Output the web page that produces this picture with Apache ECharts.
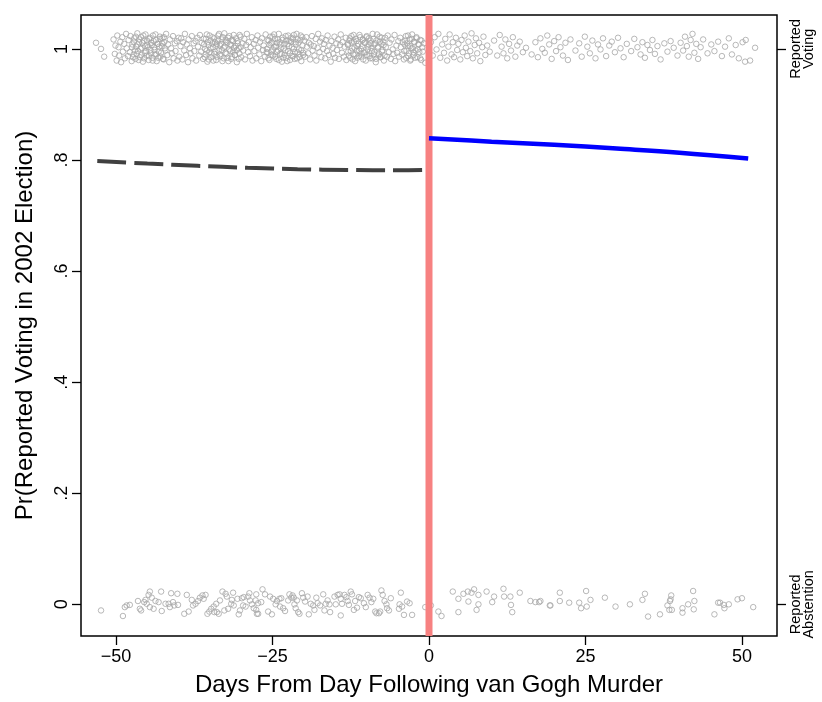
<!DOCTYPE html>
<html>
<head>
<meta charset="utf-8">
<script src="https://cdn.jsdelivr.net/npm/echarts@6/dist/echarts.min.js"></script>
<style>
  html, body { margin: 0; padding: 0; background: #fff; }
  #chart { width: 822px; height: 702px; }
</style>
</head>
<body>
<div id="chart"></div>
<script>
// tick labels
const xTicks = [-50, -25, 0, 25, 50];
const yTicks = [0, 0.2, 0.4, 0.6, 0.8, 1];
const yTickLabels = ['0', '.2', '.4', '.6', '.8', '1'];
const sideTicks = [0, 1];
const sideLabels = ['Reported\nAbstention', 'Reported\nVoting'];

// fitted lines
const preDays = [-53, -45, -37, -29, -21, -13, -5, -1];
const preFit = [0.798, 0.7935, 0.7895, 0.786, 0.7835, 0.782, 0.7815, 0.782];
const postDays = [0, 10, 20, 30, 40, 51];
const postFit = [0.839, 0.833, 0.8275, 0.8205, 0.813, 0.8025];

// jittered respondents, reported voting (y ~ 1)
const voteBefore = [
  [-53.2,1.011],[-52.4,1.0],[-51.9,0.986],
  [-50.4,1.017],[-50.2,0.991],[-50.1,1.006],[-49.9,0.979],[-49.8,1.024],[-49.6,1.003],[-49.5,0.988],[-49.3,1.013],[-49.2,0.976],[-49.0,1.021],
  [-48.9,0.995],[-48.7,1.009],[-48.6,0.983],[-48.4,1.027],[-48.3,1.001],[-48.1,0.987],[-48.0,1.016],[-47.8,0.994],[-47.7,1.023],[-47.5,0.978],
  [-47.4,1.008],[-47.2,0.990],[-47.1,1.019],[-46.9,0.982],[-46.8,1.004],[-46.6,1.028],[-46.5,0.996],[-46.3,1.012],[-46.2,0.985],[-46.0,1.021],
  [-45.9,1.002],[-45.7,0.977],[-45.6,1.015],[-45.4,0.993],[-45.3,1.026],[-45.1,0.988],[-45.0,1.007],[-44.8,0.980],[-44.7,1.018],[-44.5,0.998],
  [-44.4,1.011],[-44.2,0.984],[-44.1,1.024],[-43.9,1.003],[-43.8,0.990],[-43.6,1.016],[-43.5,0.978],[-43.3,1.009],[-43.2,0.995],[-43.0,1.022],
  [-42.9,0.986],[-42.7,1.005],[-42.6,1.019],[-42.4,0.981],[-42.3,1.012],[-42.1,0.997],[-42.0,1.027],[-41.8,0.989],[-41.7,1.008],[-41.5,0.976],
  [-41.4,1.017],[-41.2,1.001],[-41.1,0.992],[-40.9,1.023],[-40.8,0.983],[-40.6,1.010],[-40.5,0.996],[-40.3,1.014],[-40.2,0.979],[-40.0,1.020],
  [-39.9,0.986],[-39.7,1.005],[-39.6,1.019],[-39.4,0.981],[-39.3,1.012],[-39.1,0.997],[-39.0,1.027],[-38.8,0.989],[-38.7,1.008],[-38.5,0.976],
  [-38.4,1.017],[-38.2,1.001],[-38.1,0.992],[-37.9,1.023],[-37.8,0.983],[-37.6,1.010],[-37.5,0.996],[-37.3,1.014],[-37.2,0.979],[-37.0,1.020],
  [-36.9,1.004],[-36.7,0.988],[-36.6,1.025],[-36.4,0.995],[-36.3,1.011],[-36.1,0.982],[-36.0,1.018],[-35.8,1.000],[-35.7,0.990],[-35.5,1.026],
  [-35.4,0.977],[-35.2,1.007],[-35.1,0.994],[-34.9,1.015],[-34.8,0.985],[-34.6,1.021],[-34.5,1.003],[-34.3,0.991],[-34.2,1.012],[-34.0,0.980],
  [-33.9,1.009],[-33.7,1.024],[-33.6,0.997],[-33.4,1.006],[-33.3,0.987],[-33.1,1.017],[-33.0,0.978],[-32.8,1.002],[-32.7,1.028],[-32.5,0.993],
  [-32.4,1.013],[-32.2,0.984],[-32.1,1.020],[-31.9,0.999],[-31.8,1.008],[-31.6,0.982],[-31.5,1.016],[-31.3,0.995],[-31.2,1.025],[-31.0,0.989],
  [-30.9,1.005],[-30.7,0.976],[-30.6,1.014],[-30.4,1.001],[-30.3,0.992],[-30.1,1.022],[-30.0,0.985],[-29.8,1.010],[-29.7,0.997],[-29.5,1.018],
  [-29.4,0.981],[-29.2,1.007],[-29.1,1.027],[-28.9,0.994],[-28.8,1.012],[-28.6,0.987],[-28.5,1.003],[-28.3,1.021],[-28.2,0.979],[-28.0,1.009],
  [-27.9,0.996],[-27.7,1.016],[-27.6,0.983],[-27.4,1.024],[-27.3,1.002],[-27.1,0.990],[-27.0,1.013],[-26.8,0.978],[-26.7,1.019],[-26.5,0.998],
  [-26.4,1.006],[-26.2,0.986],[-26.1,1.026],[-25.9,1.000],[-25.8,0.993],[-25.6,1.015],[-25.5,0.980],[-25.3,1.010],[-25.2,0.995],[-25.0,1.022],
  [-24.9,0.988],[-24.7,1.004],[-24.6,1.018],[-24.4,0.982],[-24.3,1.011],[-24.1,0.997],[-24.0,1.027],[-23.8,0.991],[-23.7,1.008],[-23.5,0.977],
  [-23.4,1.016],[-23.2,1.001],[-23.1,0.989],[-22.9,1.023],[-22.8,0.984],[-22.6,1.009],[-22.5,0.996],[-22.3,1.014],[-22.2,0.980],[-22.0,1.020],
  [-21.9,1.003],[-21.7,0.987],[-21.6,1.025],[-21.4,0.994],[-21.3,1.012],[-21.1,0.983],[-21.0,1.017],[-20.8,0.999],[-20.7,0.990],[-20.5,1.024],
  [-20.4,0.978],[-20.2,1.006],[-20.1,0.993],[-19.9,1.015],[-19.8,0.986],[-19.6,1.021],[-19.5,1.004],[-19.3,0.992],[-19.2,1.011],[-19.0,0.981],
  [-18.9,1.008],[-18.7,1.023],[-18.6,0.997],[-18.4,1.005],[-18.3,0.988],[-18.1,1.018],[-18.0,0.979],[-17.8,1.002],[-17.7,1.027],[-17.5,0.994],
  [-17.4,1.013],[-17.2,0.985],[-17.1,1.019],[-16.9,1.000],[-16.8,1.009],[-16.6,0.983],[-16.5,1.016],[-16.3,0.996],[-16.2,1.024],[-16.0,0.989],
  [-15.9,1.006],[-15.7,0.977],[-15.6,1.014],[-15.4,1.002],[-15.3,0.991],[-15.1,1.022],[-15.0,0.984],[-14.8,1.010],[-14.7,0.998],[-14.5,1.017],
  [-14.4,0.982],[-14.2,1.007],[-14.1,1.026],[-13.9,0.993],[-13.8,1.012],[-13.6,0.986],[-13.5,1.004],[-13.3,1.020],[-13.2,0.980],[-13.0,1.009],
  [-12.9,0.995],[-12.7,1.015],[-12.6,0.984],[-12.4,1.023],[-12.3,1.001],[-12.1,0.990],[-12.0,1.013],[-11.8,0.978],[-11.7,1.018],[-11.5,0.997],
  [-11.4,1.005],[-11.2,0.987],[-11.1,1.025],[-10.9,1.000],[-10.8,0.992],[-10.6,1.016],[-10.5,0.981],[-10.3,1.011],[-10.2,0.994],[-10.0,1.021],
  [-9.9,0.989],[-9.7,1.004],[-9.6,1.019],[-9.4,0.983],[-9.3,1.010],[-9.1,0.996],[-9.0,1.027],[-8.8,0.990],[-8.7,1.008],[-8.5,0.976],
  [-8.4,1.015],[-8.2,1.002],[-8.1,0.988],[-7.9,1.022],[-7.8,0.985],[-7.6,1.009],[-7.5,0.995],[-7.3,1.013],[-7.2,0.979],[-7.0,1.020],
  [-6.9,1.003],[-6.7,0.986],[-6.6,1.024],[-6.4,0.994],[-6.3,1.011],[-6.1,0.982],[-6.0,1.017],[-5.8,0.999],[-5.7,0.991],[-5.5,1.025],
  [-5.4,0.978],[-5.2,1.006],[-5.1,0.993],[-4.9,1.014],[-4.8,0.986],[-4.6,1.020],[-4.5,1.003],[-4.3,0.990],[-4.2,1.012],[-4.0,0.981],
  [-3.9,1.008],[-3.7,1.023],[-3.6,0.997],[-3.4,1.005],[-3.3,0.987],[-3.1,1.017],[-3.0,0.979],[-2.8,1.001],[-2.7,1.026],[-2.5,0.994],
  [-2.4,1.013],[-2.2,0.984],[-2.0,1.019],[-1.8,0.999],[-1.6,1.008],[-1.4,0.983],[-1.2,1.015],[-1.0,0.995],[-0.8,1.010],[-0.6,0.975]
];
// the denser clumps in the same band
const voteBeforeClumps = [
  [-47.45,1.003],[-47.3,0.985],[-47.15,1.013],[-47.0,0.997],[-46.85,1.022],[-46.7,0.991],[-46.55,1.008],[-46.4,0.980],[-46.25,1.017],
  [-46.1,1.000],[-45.95,0.989],[-45.8,1.011],[-45.65,1.024],[-45.5,0.983],[-45.35,1.005],[-45.2,0.996],[-45.05,1.015],[-44.9,1.003],
  [-44.75,0.987],[-44.6,1.020],[-44.45,0.992],[-44.3,1.007],[-44.15,0.979],[-44.0,1.014],[-43.85,0.998],[-43.7,1.026],[-43.55,0.990],
  [-43.4,1.009],[-43.25,0.984],[-43.1,1.004],[-42.95,1.018],[-42.8,0.993],[-42.65,1.010],[-42.5,0.982],[-42.35,1.021],[-42.2,1.001],
  [-35.95,1.008],[-35.8,0.985],[-35.65,1.018],[-35.5,0.997],[-35.35,1.012],[-35.2,0.981],[-35.05,1.024],[-34.9,1.001],[-34.75,0.992],
  [-34.6,1.010],[-34.45,0.979],[-34.3,1.019],[-34.15,0.995],[-34.0,1.006],[-33.85,0.986],[-33.7,1.015],[-33.55,1.027],[-33.4,0.990],
  [-33.25,1.009],[-33.1,0.998],[-32.95,1.021],[-32.8,0.983],[-32.65,1.004],[-32.5,1.016],[-32.35,0.991],[-32.2,1.011],[-32.05,0.978],
  [-31.9,1.023],[-31.75,0.996],[-31.6,1.007],[-31.45,0.985],[-31.3,1.014],[-31.15,1.002],[-31.0,0.989],[-30.85,1.019],[-30.7,0.998],
  [-30.55,1.010],[-30.4,0.982],[-30.25,1.025],[-30.1,1.003],
  [-25.95,0.994],[-25.8,1.016],[-25.65,0.983],[-25.5,1.007],[-25.35,1.022],[-25.2,0.989],[-25.05,1.011],[-24.9,0.999],[-24.75,1.026],
  [-24.6,0.986],[-24.45,1.004],[-24.3,0.995],[-24.15,1.017],[-24.0,0.980],[-23.85,1.012],[-23.7,1.001],[-23.55,0.991],[-23.4,1.020],
  [-23.25,0.984],[-23.1,1.009],[-22.95,0.997],[-22.8,1.015],[-22.65,0.978],[-22.5,1.024],[-22.35,1.005],[-22.2,0.992],[-22.05,1.013],
  [-21.9,0.987],[-21.75,1.018],[-21.6,1.000],[-21.45,0.982],[-21.3,1.008],[-21.15,1.027],[-21.0,0.994],[-20.85,1.011],[-20.7,0.985],
  [-20.55,1.016],[-20.4,0.998],[-20.25,1.021],[-20.1,0.989],
  [-12.95,1.007],[-12.8,0.988],[-12.65,1.019],[-12.5,0.996],[-12.35,1.012],[-12.2,0.981],[-12.05,1.025],[-11.9,1.002],[-11.75,0.990],
  [-11.6,1.014],[-11.45,0.984],[-11.3,1.009],[-11.15,0.997],[-11.0,1.021],[-10.85,0.986],[-10.7,1.005],[-10.55,1.017],[-10.4,0.993],
  [-10.25,1.011],[-10.1,0.979],[-9.95,1.023],[-9.8,0.999],[-9.65,1.008],[-9.5,0.987],[-9.35,1.015],[-9.2,1.001],[-9.05,0.983],
  [-8.9,1.018],[-8.75,0.995],[-8.6,1.010],[-8.45,0.982],[-8.3,1.026],[-8.15,1.004],[-8.0,0.991],[-7.85,1.013],[-7.7,0.985],
  [-7.55,1.020],[-7.4,0.998],[-7.25,1.007],[-7.1,0.988],
  [-3.95,0.996],[-3.8,1.015],[-3.65,0.984],[-3.5,1.010],[-3.35,1.024],[-3.2,0.992],[-3.05,1.005],[-2.9,0.981],[-2.75,1.018],[-2.6,1.001],
  [-2.45,0.989],[-2.3,1.012],[-2.15,0.997],[-2.0,1.021],[-1.85,0.985],[-1.7,1.008],[-1.55,0.994],[-1.4,1.016],[-1.25,0.980],[-1.1,1.003]
];
const voteAfter = [
  [0.3,1.012],[0.6,0.988],[0.9,1.021],[1.2,0.999],[1.5,1.027],[1.8,0.984],
  [2.1,1.008],[2.4,0.993],[2.6,1.018],[2.9,0.979],[3.1,1.004],[3.3,1.026],[3.6,0.990],[3.8,1.012],[4.0,0.985],[4.3,1.020],
  [4.5,0.998],[4.7,1.009],[5.0,0.981],[5.2,1.016],[5.4,0.994],[5.7,1.024],[5.9,1.002],[6.1,0.987],[6.3,1.013],[6.6,0.996],
  [6.8,1.028],[7.0,0.983],[7.3,1.007],[7.5,1.019],[7.7,0.992],[8.0,1.011],[8.2,0.978],[8.5,1.003],[8.7,1.022],[9.0,0.989],
  [9.3,1.006],[9.7,0.995],
  [10.4,1.015],[10.9,0.988],[11.3,1.025],[11.6,1.004],[11.9,0.992],[12.2,1.017],[12.5,0.983],[12.8,1.009],[13.1,0.997],
  [13.4,1.021],[13.8,0.986],[14.1,1.006],[14.5,1.013],[15.0,0.994],[15.5,1.002],
  [16.4,0.990],[17.0,1.012],[17.4,0.985],[17.8,1.019],[18.1,1.000],[18.5,0.993],[18.9,1.024],[19.2,1.008],[19.6,0.982],
  [20.0,1.014],[20.3,0.996],[20.7,1.021],[21.0,1.003],[21.4,0.988],[21.8,1.011],[22.2,0.980],[22.6,1.017],
  [23.4,0.997],[24.0,1.010],[24.4,0.986],[24.9,1.022],[25.3,1.004],[25.7,0.992],[26.1,1.015],[26.6,0.983],[27.0,1.008],
  [27.4,0.999],[27.8,1.019],[28.3,0.987],[28.8,1.006],[29.2,1.013],[29.7,0.994],[30.2,1.020],[30.6,1.001],[31.1,0.985],[31.6,1.009],
  [32.3,0.996],[32.8,1.018],[33.3,1.003],[33.8,0.990],[34.1,1.012],[34.5,0.984],[34.9,1.007],[35.3,0.998],[35.7,1.016],
  [36.1,0.991],[36.5,1.005],[37.0,0.981],[37.6,1.010],[38.1,0.995],[38.6,1.014],[39.1,1.002],[39.7,0.988],
  [40.2,1.011],[40.6,0.997],[40.9,1.022],[41.2,1.005],[41.5,0.986],[41.8,1.016],[42.1,1.027],[42.4,0.993],[42.7,1.009],
  [43.0,0.982],[43.4,1.003],[43.8,1.017],
  [44.5,0.992],[45.1,1.008],[45.6,0.996],[46.2,1.013],[46.8,0.987],[47.3,1.004],[47.9,1.019],[48.4,0.990],[49.0,1.007],
  [49.5,0.983],[50.1,1.012],[50.5,0.977],[50.6,1.016],[51.3,0.979],[52.1,1.002]
];

// jittered respondents, reported abstention (y ~ 0)
const abstainBefore = [
  [-52.4,-0.011],[-48.9,-0.021],[-48.6,-0.005],[-48.3,-0.002],[-47.8,-0.001],[-46.5,0.006],[-46.2,-0.008],[-46.0,-0.011],
  [-45.5,0.004],[-45.3,0.008],[-45.1,0.001],[-44.8,0.017],[-44.6,0.023],[-44.3,0.012],[-44.6,-0.005],[-44.0,-0.008],
  [-43.7,0.006],[-42.8,0.023],[-43.2,0.004],[-42.7,-0.012],[-42.1,0.001],[-41.6,0.001],[-41.4,-0.005],[-41.2,0.020],
  [-40.9,0.004],[-40.2,0.019],[-40.7,-0.002],[-40.1,-0.001],[-39.1,-0.017],[-38.7,0.017],[-38.4,-0.013],[-37.7,-0.002],
  [-37.9,0.008],[-37.3,0.001],[-36.9,0.006],[-36.6,0.012],[-36.2,0.016],[-36.0,0.010],[-35.7,0.017],[-35.4,-0.017],
  [-35.1,-0.013],[-34.8,-0.008],[-34.4,-0.004],[-34.3,-0.014],[-34.0,0.001],[-33.9,-0.014],[-33.6,-0.017],[-33.4,0.007],
  [-33.0,0.023],[-32.7,-0.011],[-32.5,0.019],[-32.3,0.014],[-32.1,-0.008],[-31.6,0.001],[-31.5,0.008],[-31.3,0.021],
  [-31.2,-0.002],[-30.6,0.010],[-30.4,-0.018],[-30.2,-0.011],[-29.9,0.011],[-29.7,-0.002],[-29.6,0.013],[-29.3,-0.004],
  [-28.9,0.014],[-28.7,0.020],[-28.6,0.007],[-28.3,0.0],[-28.0,-0.007],[-27.7,0.007],[-27.6,-0.010],[-27.3,-0.017],
  [-26.6,0.027],[-27.6,0.018],[-27.3,0.002],[-26.8,0.004],[-27.5,-0.017],[-26.2,0.018],[-25.7,-0.013],[-25.4,0.014],
  [-25.1,-0.018],[-24.9,0.010],[-24.5,0.0],[-24.3,0.006],[-23.9,0.010],[-23.8,-0.004],[-23.6,0.011],[-23.3,-0.007],
  [-23.0,-0.012],[-22.5,0.007],[-22.3,0.018],[-22.0,0.012],[-21.8,0.016],[-21.6,0.012],[-21.5,0.0],[-21.3,-0.007],
  [-21.1,0.007],[-20.9,-0.014],[-20.7,-0.017],[-20.3,0.020],[-20.1,0.012],[-19.8,0.005],[-19.4,0.014],[-19.2,-0.018],
  [-18.9,0.001],[-18.5,-0.002],[-18.3,-0.010],[-18.0,0.012],[-17.8,0.002],[-17.4,-0.002],[-16.9,0.018],[-16.7,-0.011],
  [-16.5,0.001],[-16.2,0.007],[-15.9,0.0],[-15.8,-0.014],[-15.1,0.014],[-14.9,0.0],[-14.6,0.017],[-14.3,0.018],
  [-14.1,0.010],[-13.9,0.001],[-14.1,-0.020],[-13.5,0.017],[-13.2,0.013],[-13.0,0.006],[-12.8,-0.001],[-12.5,0.023],
  [-12.3,0.018],[-12.0,-0.010],[-11.8,0.006],[-11.5,-0.006],[-11.2,0.013],[-10.9,0.011],[-10.4,0.002],[-10.1,-0.005],
  [-9.8,0.017],[-9.5,0.012],[-9.2,0.004],[-8.9,0.010],[-8.6,-0.013],[-8.4,-0.016],[-8.0,-0.016],[-7.8,-0.013],
  [-7.6,0.025],[-7.4,0.017],[-7.1,0.006],[-6.8,0.0],[-6.7,-0.007],[-6.4,-0.011],[-6.1,0.011],[-4.8,-0.008],
  [-4.7,0.0],[-4.5,0.021],[-4.3,-0.004],[-4.0,-0.019],[-3.5,0.005],[-3.1,0.002],[-2.7,-0.019],[-0.6,-0.005]
];
const abstainAfter = [
  [0.3,-0.002],[1.5,-0.013],[2.0,-0.021],[3.8,0.023],[4.7,0.010],[4.7,-0.014],[5.5,0.019],[6.2,0.023],
  [6.3,0.005],[6.8,0.021],[7.2,0.027],[7.9,0.017],[7.9,0.0],[7.6,-0.010],[9.2,0.023],[10.4,0.014],
  [10.1,0.004],[11.9,0.028],[12.0,0.014],[13.0,0.014],[13.1,-0.001],[13.3,-0.014],[14.5,0.021],[16.2,0.006],
  [17.0,0.004],[17.6,0.004],[17.8,0.006],[19.3,-0.002],[19.4,-0.002],[20.9,0.021],[20.9,0.006],[22.4,0.003],
  [24.0,0.003],[24.3,-0.007],[25.1,0.024],[25.2,-0.004],[25.8,0.008],[28.1,0.012],[29.8,-0.004],[32.1,0.0],
  [34.1,0.008],[34.5,0.019],[35.0,-0.022],[36.9,-0.018],[38.1,-0.002],[38.5,0.006],[38.6,0.009],[38.7,0.016],
  [38.8,-0.010],[38.4,-0.010],[40.5,-0.007],[40.5,-0.015],[41.4,0.0],[42.2,0.024],[42.4,0.006],[42.3,-0.009],
  [45.6,-0.018],[46.2,0.003],[46.5,0.003],[47.1,-0.001],[47.2,-0.007],[47.9,0.0],[49.3,0.009],[50.0,0.011],[51.8,-0.005]
];

const FONT = '"Liberation Sans", Arial, Helvetica, sans-serif';
const dotStyle = { color: 'rgba(0,0,0,0)', borderColor: '#A6A6A6', borderWidth: 1 };
const pointSeries = (data) => ({
  type: 'scatter', data: data, symbol: 'circle', symbolSize: 5.5,
  itemStyle: dotStyle, silent: true, z: 2
});

const chart = echarts.init(document.getElementById('chart'), null, { renderer: 'canvas' });
chart.setOption({
  animation: false,
  backgroundColor: '#fff',
  textStyle: { fontFamily: FONT },
  grid: {
    left: 81, right: 45, top: 15, bottom: 61,
    show: true, borderColor: '#000', borderWidth: 1.5, backgroundColor: 'transparent'
  },
  xAxis: {
    type: 'value', min: -55.6, max: 55.6,
    axisLine: { show: false, onZero: false },
    splitLine: { show: false },
    axisTick: { show: true, length: 9, customValues: xTicks, lineStyle: { color: '#000', width: 1.3 } },
    axisLabel: {
      customValues: xTicks, margin: 12, color: '#000', fontSize: 18, fontFamily: FONT,
      formatter: v => (v < 0 ? '\u2212' + Math.abs(v) : String(v))
    },
    name: 'Days From Day Following van Gogh Murder',
    nameLocation: 'middle', nameGap: 37,
    nameTextStyle: { color: '#000', fontSize: 24, fontFamily: FONT }
  },
  yAxis: [{
    type: 'value', min: -0.057, max: 1.061, position: 'left',
    axisLine: { show: false, onZero: false },
    splitLine: { show: false },
    axisTick: { show: true, length: 9, customValues: yTicks, lineStyle: { color: '#000', width: 1.3 } },
    axisLabel: {
      customValues: yTicks, rotate: 90, margin: 10, color: '#000', fontSize: 18, fontFamily: FONT,
      formatter: v => yTickLabels[yTicks.findIndex(t => Math.abs(t - v) < 1e-6)]
    },
    name: 'Pr(Reported Voting in 2002 Election)',
    nameLocation: 'middle', nameGap: 44, nameRotate: 90,
    nameTextStyle: { color: '#000', fontSize: 24, fontFamily: FONT }
  }, {
    type: 'value', min: -0.057, max: 1.061, position: 'right',
    axisLine: { show: false, onZero: false },
    splitLine: { show: false },
    axisTick: { show: true, length: 9, customValues: sideTicks, lineStyle: { color: '#000', width: 1.3 } },
    axisLabel: {
      customValues: sideTicks, rotate: 90, margin: 12, color: '#000', fontSize: 14.5, lineHeight: 13.5, fontFamily: FONT,
      formatter: v => sideLabels[v > 0.5 ? 1 : 0]
    }
  }],
  series: [
    pointSeries(voteBefore),
    pointSeries(voteBeforeClumps),
    pointSeries(voteAfter),
    pointSeries(abstainBefore),
    pointSeries(abstainAfter),
    {
      type: 'line', data: [[0, -0.057], [0, 1.061]], symbol: 'none', silent: true, z: 3,
      lineStyle: { color: '#F78181', width: 7 }
    },
    {
      type: 'line', data: preDays.map((d, i) => [d, preFit[i]]), symbol: 'none', smooth: 0.4, silent: true, z: 4,
      lineStyle: { color: '#404040', width: 4, type: [29, 8], cap: 'butt' }
    },
    {
      type: 'line', data: postDays.map((d, i) => [d, postFit[i]]), symbol: 'none', smooth: 0.4, silent: true, z: 4,
      lineStyle: { color: '#0000FF', width: 4.5 }
    }
  ]
});
</script>
</body>
</html>
